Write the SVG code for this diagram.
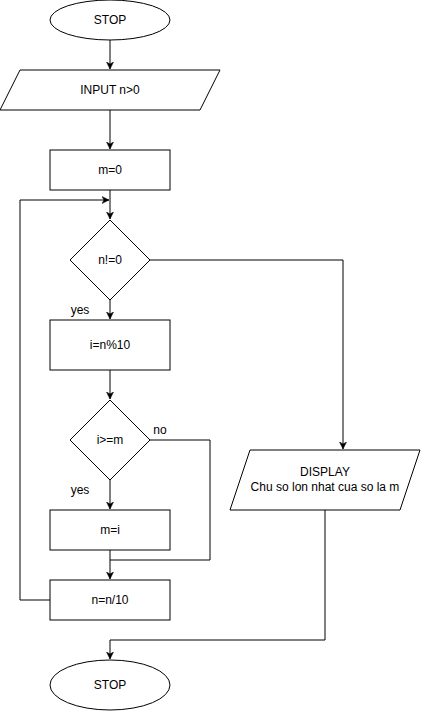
<svg xmlns="http://www.w3.org/2000/svg" width="421" height="711" viewBox="0 0 421 711">
<style>
.s{fill:#fff;stroke:#000;stroke-width:1}
.c{fill:none;stroke:#000;stroke-width:1}
text{font-family:"Liberation Sans",Arial,sans-serif;font-size:12px;fill:#000}
.m{text-anchor:middle;dominant-baseline:central}
</style>
<defs>
<marker id="a" markerWidth="8" markerHeight="8" refX="7" refY="4" orient="auto" markerUnits="userSpaceOnUse">
<path d="M0,0.5 L7,4 L0,7.5 L2,4 Z" fill="#000" stroke="#000" stroke-width="0.5"/>
</marker>
</defs>
<rect width="421" height="711" fill="#fff"/>
<g id="connectors">
<path class="c" d="M110,40 V69" marker-end="url(#a)"/>
<path class="c" d="M110,110 V149" marker-end="url(#a)"/>
<path class="c" d="M110,190 V219" marker-end="url(#a)"/>
<path class="c" d="M50,600 H20 V200 H109" marker-end="url(#a)"/>
<path class="c" d="M110,300 V319" marker-end="url(#a)"/>
<path class="c" d="M150,260 H343 V449" marker-end="url(#a)"/>
<path class="c" d="M110,370 V399" marker-end="url(#a)"/>
<path class="c" d="M110,480 V509" marker-end="url(#a)"/>
<path class="c" d="M150,440 H210 V560 H110"/>
<path class="c" d="M110,550 V579" marker-end="url(#a)"/>
<path class="c" d="M325,510 V640 H110 V659" marker-end="url(#a)"/>
<text x="80" y="310" class="m">yes</text>
<text x="80" y="490" class="m">yes</text>
<text x="160" y="430" class="m">no</text>
</g>
<g id="start">
<ellipse class="s" cx="110" cy="20" rx="60" ry="20"/>
<text x="110" y="20" class="m">STOP</text>
</g>
<g id="input">
<path class="s" d="M20,70 H220 L200,110 H0 Z"/>
<text x="110" y="90" class="m">INPUT n&gt;0</text>
</g>
<g id="m0">
<rect class="s" x="50" y="150" width="120" height="40"/>
<text x="110" y="170" class="m">m=0</text>
</g>
<g id="cond1">
<path class="s" d="M110,220 L150,260 L110,300 L70,260 Z"/>
<text x="110" y="260" class="m">n!=0</text>
</g>
<g id="imod">
<rect class="s" x="50" y="320" width="120" height="50"/>
<text x="110" y="345" class="m">i=n%10</text>
</g>
<g id="cond2">
<path class="s" d="M110,400 L150,440 L110,480 L70,440 Z"/>
<text x="110" y="440" class="m">i&gt;=m</text>
</g>
<g id="mi">
<rect class="s" x="50" y="510" width="120" height="40"/>
<text x="110" y="530" class="m">m=i</text>
</g>
<g id="ndiv">
<rect class="s" x="50" y="580" width="120" height="40"/>
<text x="110" y="600" class="m">n=n/10</text>
</g>
<g id="display">
<path class="s" d="M250,450 H420 L400,510 H230 Z"/>
<text x="325" y="472" class="m">DISPLAY</text>
<text x="325" y="487" class="m">Chu so lon nhat cua so la m</text>
</g>
<g id="stop">
<ellipse class="s" cx="110" cy="685" rx="60" ry="25"/>
<text x="110" y="685" class="m">STOP</text>
</g>
</svg>
